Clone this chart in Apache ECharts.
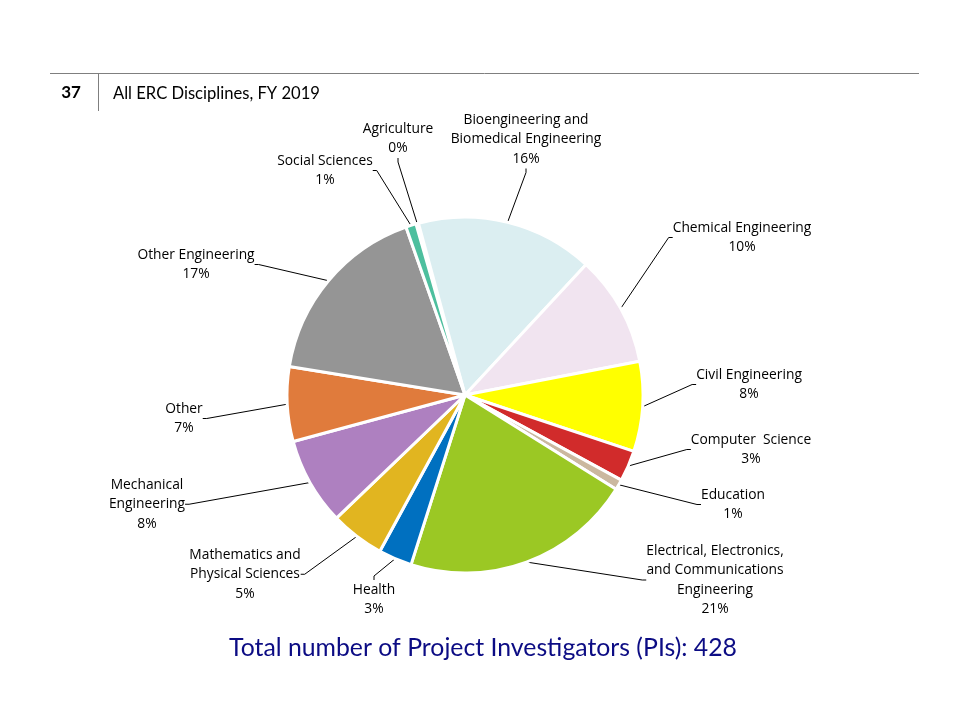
<!DOCTYPE html>
<html><head><meta charset="utf-8">
<script src="https://cdn.jsdelivr.net/npm/echarts@6/dist/echarts.min.js"></script>
<style>html,body{margin:0;padding:0;background:#fff}#c{width:960px;height:720px}</style>
</head><body><div id="c"></div>
<script>
var categories = ['Agriculture', 'Bioengineering and\nBiomedical Engineering', 'Chemical Engineering', 'Civil Engineering', 'Computer  Science', 'Education', 'Electrical, Electronics,\nand Communications\nEngineering', 'Health', 'Mathematics and\nPhysical Sciences', 'Mechanical\nEngineering', 'Other', 'Other Engineering', 'Social Sciences'];
var piCounts = [1, 69, 43, 35, 12, 4, 90, 13, 21, 34, 29, 73, 4];
var sliceColors = ['#8db8e2', '#dbeef1', '#f1e4f0', '#ffff00', '#d12b2b', '#cbb89f', '#9bc824', '#0070c0', '#e1b520', '#ae80c0', '#e07b3c', '#959595', '#4dbf9e'];
var totalPIs = 428;
// label anchor points (center x, top y) — layout only
var labelPos = [[398,119],[526,110],[742,218],[749,365],[751,430],[733,485],[715,541],[374,580],[245,545],[147,475],[184,399],[196,245],[325,151]];

var chart = echarts.init(document.getElementById('c'));
var data = categories.map(function(n, i){ return {name: n, value: piCounts[i], itemStyle: {color: sliceColors[i]}}; });
chart.setOption({
  animation: false,
  textStyle: {fontFamily: '"Open Sans", Lato, sans-serif'},
  graphic: [
    {type: 'line', shape: {x1: 50, y1: 73.5, x2: 919, y2: 73.5}, style: {stroke: '#7f7f7f', lineWidth: 1}},
    {type: 'line', shape: {x1: 98.5, y1: 73, x2: 98.5, y2: 111}, style: {stroke: '#7f7f7f', lineWidth: 1}},
    {type: 'text', x: 71, y: 93, style: {text: '37', font: 'bold 17px Lato, sans-serif', fill: '#000', textAlign: 'center', textVerticalAlign: 'middle'}},
    {type: 'text', x: 113, y: 94, style: {text: 'All ERC Disciplines, FY 2019', font: '16.6px Lato, sans-serif', fill: '#000', textAlign: 'left', textVerticalAlign: 'middle'}},
    {type: 'text', x: 483, y: 648, style: {text: 'Total number of Project Investigators (PIs): ' + totalPIs, font: '24.8px Lato, sans-serif', fill: '#0c0c84', textAlign: 'center', textVerticalAlign: 'middle'}}
  ],
  series: [{
    type: 'pie',
    center: [465, 395],
    radius: 178,
    startAngle: 106,
    clockwise: true,
    percentPrecision: 0,
    avoidLabelOverlap: false,
    itemStyle: {borderColor: '#fff', borderWidth: 3},
    label: {
      show: true,
      formatter: '{b}\n{d}%',
      fontSize: 13.8,
      lineHeight: 19.5,
      color: '#000',
      align: 'center'
    },
    labelLine: {show: true, length: 10, length2: 4, lineStyle: {color: '#000', width: 1}},
    labelLayout: function(p) {
      var pos = labelPos[p.dataIndex];
      return {x: pos[0], y: pos[1], align: 'center', verticalAlign: 'top'};
    },
    data: data
  }]
});
</script></body></html>
